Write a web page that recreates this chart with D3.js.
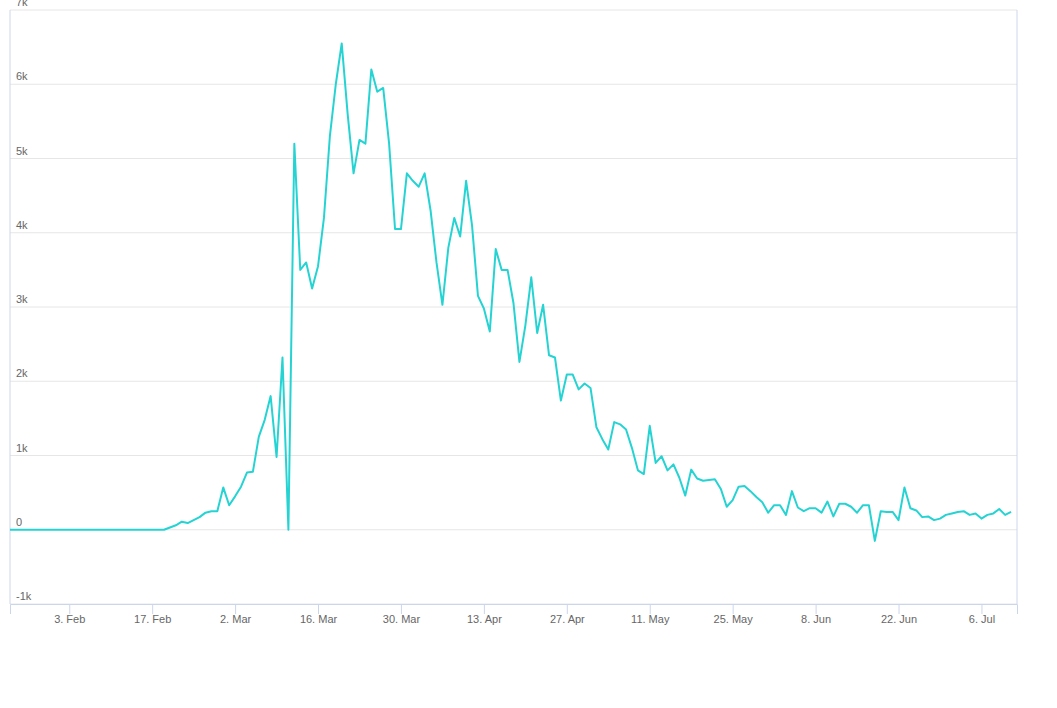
<!DOCTYPE html>
<html><head><meta charset="utf-8">
<script src="https://cdn.jsdelivr.net/npm/d3@7"></script>
<style>body{margin:0;background:#fff;font-family:"Liberation Sans",Arial,sans-serif}</style>
</head><body><svg id="c" width="1057" height="708"></svg>
<script>
const startDate = "2020-01-24";
const leadingZeros = 27;
const values = [30,60,108,90,130,170,230,250,250,570,
330,450,580,770,780,1250,1480,1800,980,2320,
0,5200,3500,3600,3250,3550,4200,5300,6000,6550,
5600,4800,5250,5200,6200,5900,5950,5200,4050,4050,
4800,4700,4620,4800,4300,3600,3030,3800,4200,3950,
4700,4100,3150,2980,2670,3780,3500,3500,3050,2260,
2750,3400,2650,3030,2350,2320,1740,2090,2090,1890,
1970,1910,1380,1220,1080,1450,1420,1350,1100,800,
750,1400,900,990,800,880,700,460,810,690,
660,670,680,550,310,400,580,590,520,440,
370,230,330,330,200,520,300,250,290,290,
230,380,180,350,350,310,230,330,330,-150,
250,240,240,130,570,290,260,170,180,130,
150,200,220,240,250,200,220,150,200,220,
280,200,240];
const yTicks = [-1000,0,1000,2000,3000,4000,5000,6000,7000];
const yTickLabels = ["-1k","0","1k","2k","3k","4k","5k","6k","7k"];
const xTickDates = ["2020-02-03","2020-02-17","2020-03-02","2020-03-16","2020-03-30","2020-04-13","2020-04-27","2020-05-11","2020-05-25","2020-06-08","2020-06-22","2020-07-06"];

const parse = d3.utcParse("%Y-%m-%d");
const s0 = parse(startDate);
const all = d3.range(leadingZeros).map(()=>0).concat(values);
const data = all.map((v,i)=>({d:d3.utcDay.offset(s0,i), v}));

const svg = d3.select("#c");
const x = d3.scaleUtc().domain([s0, parse("2020-07-12")]).range([10,1017]);
const y = d3.scaleLinear().domain([-1000,7000]).range([604,10]);

const g = svg.append("g");
yTicks.forEach((t,i)=>{
  g.append("line").attr("x1",10).attr("x2",1017).attr("y1",y(t)).attr("y2",y(t))
   .attr("stroke","#e6e6e6").attr("stroke-width",1);
  g.append("text").attr("x",16).attr("y",y(t)-4).text(yTickLabels[i])
   .attr("font-size",11).attr("fill","#666");
});
svg.append("line").attr("x1",10).attr("x2",10).attr("y1",10).attr("y2",604).attr("stroke","#ccd6eb");
svg.append("line").attr("x1",1017).attr("x2",1017).attr("y1",10).attr("y2",604).attr("stroke","#ccd6eb");

const fmt = d3.utcFormat("%-d. %b");
const xa = svg.append("g").attr("transform","translate(0,604)")
  .call(d3.axisBottom(x).tickValues(xTickDates.map(parse)).tickFormat(fmt).tickSize(10).tickPadding(-1));
xa.select(".domain").attr("stroke","#ccd6eb");
xa.selectAll(".tick line").attr("stroke","#ccd6eb").attr("y2",10);
xa.selectAll("text").attr("font-size",11).attr("fill","#666").attr("font-family","Liberation Sans, Arial, sans-serif").attr("dy","0.9em");

svg.append("path").datum(data)
  .attr("d", d3.line().x(d=>x(d.d)).y(d=>y(d.v)))
  .attr("fill","none").attr("stroke","#26d3d3").attr("stroke-width",2).attr("stroke-linejoin","round");
</script></body></html>
